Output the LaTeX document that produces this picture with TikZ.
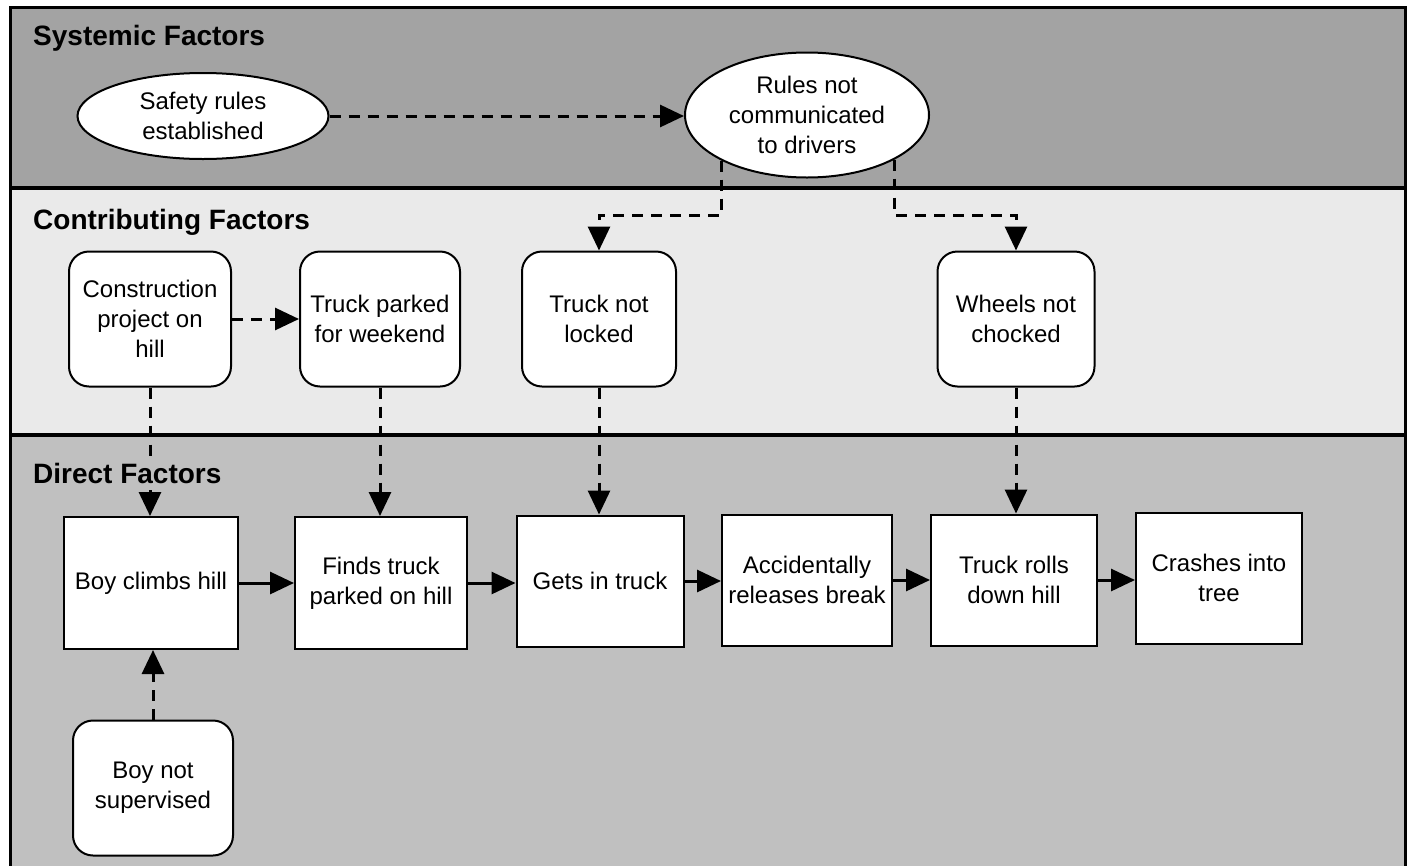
\documentclass[tikz,border=0pt]{standalone}
\usepackage{fontspec}
\setmainfont{Liberation Sans}
\usetikzlibrary{arrows.meta,shapes.geometric}

\definecolor{sysband}{RGB}{163,163,163}
\definecolor{contband}{RGB}{234,234,234}
\definecolor{dirband}{RGB}{192,192,192}

\begin{document}
\begin{tikzpicture}[x=1pt,y=-1pt,
  every node/.style={font=\fontsize{24}{30}\selectfont, align=center, text=black},
  bandtitle/.style={font=\bfseries\fontsize{28}{32}\selectfont, inner sep=0pt,
                    text depth=7pt, anchor=base west},
  oval/.style={ellipse, draw, line width=2pt, fill=white, inner sep=0pt},
  rbox/.style={rectangle, rounded corners=20pt, draw, line width=2pt, fill=white,
               minimum width=160pt, minimum height=135pt, inner sep=2pt},
  sbox/.style={rectangle, draw, line width=2pt, fill=white,
               minimum width=170pt, minimum height=131pt, inner sep=2pt},
  dep/.style={line width=3pt, dash pattern=on 11pt off 8pt,
              -{Triangle[length=24pt,width=22pt]}},
  flow/.style={line width=3pt, -{Triangle[length=24pt,width=22pt]}}]

\useasboundingbox (0,0) rectangle (1416,865);
\clip (0,0) rectangle (1416,865);
\fill[white] (0,0) rectangle (1416,865);

% three horizontal bands
\fill[sysband]  (10,7)   rectangle (1405,188);
\fill[contband] (10,188) rectangle (1405,435);
\fill[dirband]  (10,435) rectangle (1405,880);
\draw[line width=3.5pt] (10,188) -- (1405,188);
\draw[line width=3.5pt] (10,435) -- (1405,435);
\draw[line width=3pt] (10,880) -- (10,7) -- (1405,7) -- (1405,880);

% systemic factors
\node[oval, minimum width=251pt, minimum height=86pt] (e1) at (203,116) {Safety rules\\established};
\node[oval, minimum width=244pt, minimum height=125pt] (e2) at (807,115) {Rules not\\communicated\\to drivers};

% contributing factors
\node[rbox, minimum width=162pt] (c1) at (150,319) {Construction\\project on\\hill};
\node[rbox] (c2) at (380,319) {Truck parked\\for weekend};
\node[rbox, minimum width=154pt] (c3) at (599,319) {Truck not\\locked};
\node[rbox, minimum width=157pt] (c4) at (1016,319) {Wheels not\\chocked};

% direct factors
\node[sbox, minimum width=174pt, minimum height=132pt] (d1) at (151,583) {Boy climbs hill};
\node[sbox, minimum width=172pt, minimum height=132pt] (d2) at (381,583) {Finds truck\\parked on hill};
\node[sbox, minimum width=167pt] (d3) at (600,581) {Gets in truck};
\node[sbox] (d4) at (807,580) {Accidentally\\releases break};
\node[sbox, minimum width=166pt] (d5) at (1014,580) {Truck rolls\\down hill};
\node[sbox, minimum width=166pt] (d6) at (1219,578) {Crashes into\\tree};
\node[rbox] (b1) at (153,788) {Boy not\\supervised};

% dependency connectors
\coordinate (k1) at (599,215);
\coordinate (k2) at (1016,215);
\draw[dep] (e1.east) -- (e1.east -| e2.west);
\draw[dep] (e2.208) |- (k1) -- (c3.north);
\draw[dep] (e2.333) |- (k2) -- (c4.north);
\draw[dep] (c1.east) -- (c1.east -| c2.west);
\draw[dep] (c1.south) -- (c1.south |- d1.north);
\draw[dep] (c2.south) -- (c2.south |- d2.north);
\draw[dep] (c3.south) -- (c3.south |- d3.north);
\draw[dep] (c4.south) -- (c4.south |- d5.north);
\draw[dep] (b1.north) -- (b1.north |- d1.south);

% event chain
\draw[flow] (d1.east) -- (d1.east -| d2.west);
\draw[flow] (d2.east) -- (d2.east -| d3.west);
\draw[flow] (d3.east) -- (d3.east -| d4.west);
\draw[flow] (d4.east) -- (d4.east -| d5.west);
\draw[flow] (d5.east) -- (d5.east -| d6.west);

% band titles, set over the connectors on their band colour
\node[bandtitle, fill=sysband] (tsys) at (33,45) {Systemic Factors};
\node[bandtitle, fill=contband] (tcon) at (33,229) {Contributing Factors};
\node[bandtitle, fill=dirband] (tdir) at (33,483) {Direct Factors};
\end{tikzpicture}
\end{document}
